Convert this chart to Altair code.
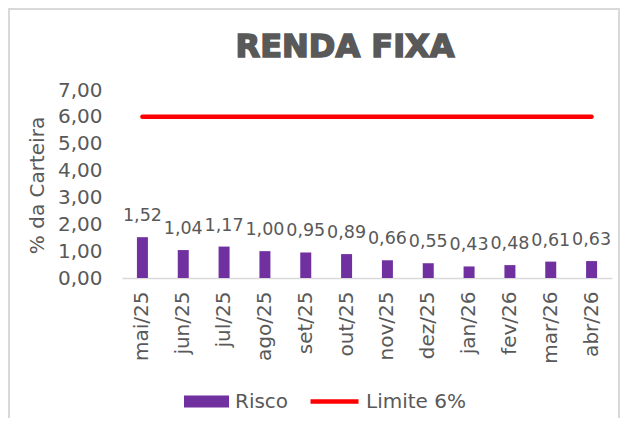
import altair as alt
import pandas as pd

meses = ["mai/25", "jun/25", "jul/25", "ago/25", "set/25", "out/25",
         "nov/25", "dez/25", "jan/26", "fev/26", "mar/26", "abr/26"]
risco = [1.52, 1.04, 1.17, 1.00, 0.95, 0.89, 0.66, 0.55, 0.43, 0.48, 0.61, 0.63]
limite = [6.0, 6.0, 6.0, 6.0, 6.0, 6.0, 6.0, 6.0, 6.0, 6.0, 6.0, 6.0]
y_ticks = [0, 1, 2, 3, 4, 5, 6, 7]
titulo = "RENDA FIXA"

df = pd.DataFrame({"mes": meses, "risco": risco, "limite": limite})

FONT = "DejaVu Sans"
GRAY = "#595959"

base = alt.Chart(df).encode(
    x=alt.X("mes:N", sort=meses, title=None,
            scale=alt.Scale(paddingInner=0.73, paddingOuter=0.365),
            axis=alt.Axis(labelAngle=-90, labelFontSize=20, labelFont=FONT,
                          labelColor=GRAY, labelPadding=13, ticks=False, tickSize=0,
                          labelOverlap=False,
                          domainColor="#D9D9D9", domainWidth=1.5))
)

yscale = alt.Scale(domain=[0, 7], nice=False)
yaxis = alt.Axis(values=y_ticks, tickCount=8,
                 labelExpr="replace(format(datum.value, '.2f'), '.', ',')",
                 labelFontSize=20, labelFont=FONT, labelColor=GRAY, labelPadding=20,
                 labelOverlap=False, labelBound=False, labelFlush=False,
                 ticks=False, tickSize=0, domain=False, grid=False,
                 title="% da Carteira", titleFont=FONT, titleFontSize=20,
                 titleFontWeight="normal", titleColor=GRAY,
                 titleX=-85, titleY=95, titleAlign="center", titleBaseline="middle",
                 titleAngle=-90)

bars = base.transform_calculate(serie="'Risco'").mark_bar(size=11).encode(
    y=alt.Y("risco:Q", scale=yscale, axis=yaxis),
    fill=alt.Fill("serie:N", scale=alt.Scale(domain=["Risco"], range=["#7030A0"]),
                  legend=alt.Legend(title=None, orient="none", legendX=62, legendY=289,
                                    padding=0,
                                    symbolType="M-1,-0.27L1,-0.27L1,0.27L-1,0.27Z",
                                    symbolSize=2025, symbolStrokeWidth=0,
                                    labelFontSize=20, labelFont=FONT, labelColor=GRAY,
                                    labelOffset=6))
)

labels = base.transform_calculate(
    txt="replace(format(datum.risco, '.2f'), '.', ',')"
).mark_text(baseline="bottom", dy=-12, fontSize=17.5, font=FONT, color=GRAY).encode(
    y=alt.Y("risco:Q", scale=yscale, axis=yaxis),
    text="txt:N"
)

line = base.transform_calculate(serie2="'Limite 6%'").mark_line(
    strokeWidth=4.5, strokeCap="round").encode(
    y=alt.Y("limite:Q", scale=yscale, axis=yaxis),
    stroke=alt.Stroke("serie2:N", scale=alt.Scale(domain=["Limite 6%"], range=["#FF0000"]),
                      legend=alt.Legend(title=None, orient="none", legendX=186, legendY=285,
                                        padding=0, symbolType="stroke", symbolSize=2304,
                                        symbolStrokeWidth=4.5,
                                        labelFontSize=20, labelFont=FONT, labelColor=GRAY,
                                        labelOffset=5))
)

deco = alt.Chart(pd.DataFrame({"titulo": [titulo]}))

border = deco.mark_rect(
    fillOpacity=0, stroke="#D9D9D9", strokeWidth=2
).encode(x=alt.value(-113), x2=alt.value(497), y=alt.value(-81), y2=alt.value(400))

title = deco.mark_text(font=FONT, fontSize=32, fontWeight="bold", color=GRAY,
                       stroke=GRAY, strokeWidth=1.6,
                       align="center", baseline="alphabetic").encode(
    x=alt.value(223), y=alt.value(-33), text="titulo:N")

chart = alt.layer(border, title, bars, labels, line).properties(
    width=490, height=188,
    autosize=alt.AutoSizeParams(type="none"),
    padding={"left": 114, "top": 82, "right": 16, "bottom": 140},
).configure_view(stroke=None)

chart.save("out.html", embed_options={"renderer": "svg", "actions": False})
